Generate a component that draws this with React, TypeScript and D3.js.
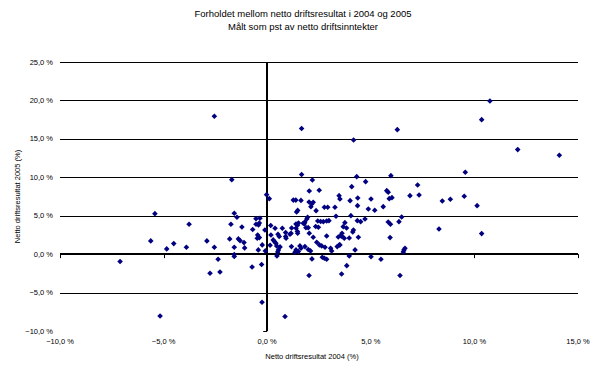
import React from "react";
import * as d3 from "d3";

const titleLines = ["Forholdet mellom netto driftsresultat i 2004 og 2005", "Målt som pst av netto driftsinntekter"];
const xTitle = "Netto driftsresultat 2004 (%)";
const yTitle = "Netto driftsresultat 2005 (%)";
const xTicks = [-10, -5, 0, 5, 10, 15];
const yTicks = [-10, -5, 0, 5, 10, 15, 20, 25];

const x2004 = [
  -7.10, -5.17, -5.42, -5.62, -4.85, -4.51, -3.90, -3.77, -2.91, -2.55, -2.37, -2.76, -2.28, -2.55, -1.71, -1.59, -1.46, -1.75, -1.22, -1.81,
  -1.39, -1.31, -1.12, -1.59, -1.09, -1.59, -1.59, -0.73, -0.27, -0.25, -0.03, -0.54, -0.35, -0.54, -0.42, -0.38, -0.70, -0.46, -0.38, -0.48,
  -0.24, -0.43, -0.09, 0.10, 0.17, 0.18, 0.29, 0.35, 0.42, 0.46, 0.54, 0.51, 0.62, 0.14, 0.47, 0.73, 1.18, 0.89, 1.10, 0.89,
  0.52, 0.58, 1.17, 1.39, 1.50, 1.34, 1.63, 1.82, 1.98, 2.09, 1.58, 1.26, 1.38, 1.63, 1.47, 1.42, 1.66, 1.66, 1.39, 1.46,
  1.51, 1.74, 1.46, 1.39, 1.47, 2.18, 2.03, 2.51, 2.02, 2.15, 2.22, 2.11, 2.36, 2.76, 2.92, 3.27, 1.95, 1.91, 1.82, 1.79,
  1.87, 1.98, 2.44, 2.71, 2.87, 2.98, 2.34, 2.47, 2.03, 2.22, 2.39, 2.63, 2.79, 2.52, 3.06, 3.11, 3.38, 3.48, 2.16, 2.66,
  2.76, 2.87, 2.02, 4.17, 3.32, 2.87, 4.32, 4.75, 5.97, 6.28, 4.08, 5.77, 5.84, 3.47, 3.51, 4.00, 4.37, 5.01, 5.89, 6.02,
  4.36, 4.88, 5.19, 5.60, 4.04, 3.75, 3.83, 3.67, 4.35, 4.51, 4.72, 5.84, 5.95, 4.16, 4.13, 3.61, 3.55, 3.62, 3.72, 3.43,
  3.96, 4.40, 5.93, 3.51, 4.24, 3.96, 5.01, 5.49, 3.84, 3.59, 6.41, 6.49, 6.36, 6.60, 6.65, 6.57, 7.26, 6.89, 7.33, 8.45,
  8.84, 9.51, 9.56, 10.13, 8.29, 10.35, 10.35, 10.75, 12.09, 14.10, 0.86, 0.38, -0.11, 0.91, 1.15, 2.58,
];

const y2005 = [
  -0.95, -8.04, 5.27, 1.72, 0.68, 1.37, 0.90, 3.89, 1.72, 0.90, -0.66, -2.49, -2.32, 17.94, 9.69, 5.32, 4.80, 3.89, 3.54, 1.98,
  1.98, 1.76, 1.50, 0.90, 0.81, -0.04, -0.30, -1.67, -1.34, -6.26, 7.74, 4.62, 4.67, 3.89, 3.80, 4.06, 3.21, 2.50, 2.15, 2.07,
  1.20, 0.55, 0.42, 7.22, 3.73, 2.50, 1.85, 1.63, 1.42, 1.07, 0.55, 0.29, 0.94, 1.16, -0.23, 3.37, 3.41, 2.80, 2.59, 2.28,
  2.59, 2.30, 0.98, 0.55, 0.33, 0.25, 0.77, 0.98, 0.61, 0.42, 1.07, 7.03, 7.03, 6.99, 5.69, 5.49, 10.37, 16.35, 3.93, 3.76,
  4.06, 4.02, 2.95, 3.37, 2.72, 9.65, 8.22, 8.31, 6.79, 6.53, 6.75, 6.18, 5.66, 6.10, 6.10, 6.10, 4.80, 4.58, 4.19, 3.97,
  3.45, 3.45, 4.32, 4.23, 4.32, 4.36, 3.60, 3.50, 2.72, 2.20, 1.55, 1.07, 0.90, 1.20, 0.77, 0.42, 0.98, 1.20, -0.62, -0.40,
  -0.53, -0.66, -2.77, 14.86, 4.93, 2.37, 10.08, 9.43, 10.21, 16.20, 8.78, 8.26, 8.05, 7.61, 7.18, 6.96, 7.31, 7.18, 7.22, 7.35,
  6.31, 5.88, 5.71, 6.18, 5.01, 4.10, 3.41, 3.58, 4.36, 4.23, 4.58, 4.19, 3.89, 3.15, 2.89, 2.72, 2.41, 2.28, 2.07, 2.24,
  2.11, 2.20, 2.15, 1.20, 0.55, -0.23, -0.33, -0.66, -1.50, -2.58, -2.77, 4.84, 4.23, 0.55, 0.77, 0.29, 9.00, 7.61, 7.70, 6.92,
  7.14, 7.53, 10.66, 6.31, 3.28, 2.67, 17.50, 19.93, 13.60, 12.87, -8.11, 3.37, 3.15, 2.07, 2.72, 4.25,
];

const W = 605;
const H = 377;
const fmt = (v: number) => d3.format(".1f")(v).replace(".", ",").replace("-", "-") + " %";

export default function App() {
  const x = d3.scaleLinear().domain([-10, 15]).range([60, 578]);
  const y = d3.scaleLinear().domain([-10, 25]).range([331, 62]);
  const marker = d3.symbol().type(d3.symbolDiamond2).size(20)();
  const pts = x2004.map((v, i) => [v, y2005[i]] as [number, number]);
  const font = "'Liberation Sans', Arial, sans-serif";

  return (
    <svg width={W} height={H} style={{ position: "absolute", left: 0, top: 0, background: "#fff" }} fontFamily={font}>
      <rect x={0} y={0} width={W} height={H} fill="#fff" />
      {titleLines.map((t, i) => (
        <text key={t} x={303} y={17 + i * 13} textAnchor="middle" fontSize={9.5} fill="#000">{t}</text>
      ))}
      {yTicks.filter((t) => t !== 0 && t !== -10).map((t) => (
        <line key={"g" + t} x1={x(-10)} x2={x(15)} y1={Math.round(y(t)) + 0.5} y2={Math.round(y(t)) + 0.5} stroke="#000" strokeWidth={1} />
      ))}
      {yTicks.map((t) => (
        <line key={"yt" + t} x1={x(0) - 4} x2={x(0)} y1={Math.round(y(t)) + 0.5} y2={Math.round(y(t)) + 0.5} stroke="#000" strokeWidth={1} />
      ))}
      {xTicks.map((t) => (
        <line key={"xt" + t} x1={Math.round(x(t)) + 0.5} x2={Math.round(x(t)) + 0.5} y1={y(0)} y2={y(0) + 4} stroke="#000" strokeWidth={1} />
      ))}
      <line x1={x(-10)} x2={x(15)} y1={Math.round(y(0))} y2={Math.round(y(0))} stroke="#000" strokeWidth={2} />
      <line x1={Math.round(x(0))} x2={Math.round(x(0))} y1={y(25)} y2={y(-10)} stroke="#000" strokeWidth={2} />
      {yTicks.map((t) => (
        <text key={"yl" + t} x={53} y={y(t) + 2.5} textAnchor="end" fontSize={7.5} fill="#000">{fmt(t)}</text>
      ))}
      {xTicks.map((t) => (
        <text key={"xl" + t} x={x(t)} y={344} textAnchor="middle" fontSize={7.5} fill="#000">{fmt(t)}</text>
      ))}
      <text x={312} y={359} textAnchor="middle" fontSize={7.5} fill="#000">{xTitle}</text>
      <text transform={`translate(20,${(y(25) + y(-10)) / 2}) rotate(-90)`} textAnchor="middle" fontSize={7.5} fill="#000">{yTitle}</text>
      {pts.map((p, i) => (
        <path key={i} d={marker ?? ""} transform={`translate(${x(p[0])},${y(p[1])})`} fill="#000080" />
      ))}
    </svg>
  );
}
